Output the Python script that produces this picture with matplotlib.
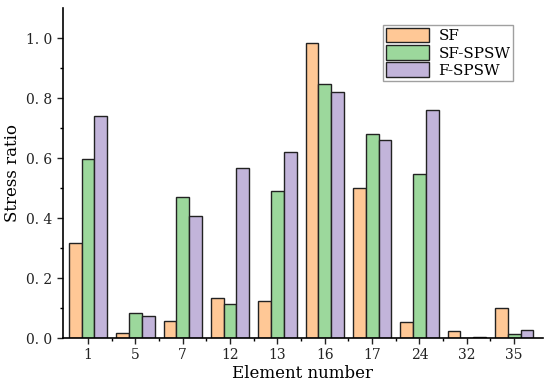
import matplotlib
matplotlib.use("Agg")
import matplotlib.pyplot as plt
import numpy as np

elements = ["1", "5", "7", "12", "13", "16", "17", "24", "32", "35"]
sf = [0.317, 0.018, 0.057, 0.132, 0.123, 0.983, 0.500, 0.054, 0.023, 0.100]
sf_spsw = [0.597, 0.084, 0.469, 0.113, 0.491, 0.848, 0.680, 0.547, 0.0, 0.015]
f_spsw = [0.740, 0.073, 0.408, 0.566, 0.621, 0.822, 0.660, 0.762, 0.003, 0.027]
series = ["SF", "SF-SPSW", "F-SPSW"]
colors = ["#FFC896", "#9CD89C", "#C2B4DA"]

plt.rcParams["font.family"] = ["DejaVu Serif"]

fig = plt.figure(figsize=(5.5, 3.89), dpi=100)
ax = fig.add_axes([0.1145, 0.131, 0.872, 0.848])

x = np.arange(len(elements))
w = 0.27
for i, (vals, name, c) in enumerate(zip([sf, sf_spsw, f_spsw], series, colors)):
    ax.bar(x + (i - 1) * w, vals, width=w, color=c, edgecolor="#222222",
           linewidth=1.0, label=name)

ax.set_xlim(-0.53, len(elements) - 0.4)
ax.set_ylim(0, 1.1)
ax.set_xticks(x)
ax.set_xticklabels(elements)
ax.set_xticks(x[:-1] + 0.5, minor=True)
ax.set_yticks([0, 0.2, 0.4, 0.6, 0.8, 1.0])
ax.set_yticklabels(["0. 0", "0. 2", "0. 4", "0. 6", "0. 8", "1. 0"])
ax.set_yticks(np.arange(0.1, 1.1, 0.2), minor=True)
ax.tick_params(axis="both", which="major", length=4, width=1, labelsize=10, colors="#222222")
ax.tick_params(axis="both", which="minor", length=2, width=1)
ax.spines["top"].set_visible(False)
ax.spines["right"].set_visible(False)
ax.spines["left"].set_linewidth(1.2)
ax.spines["bottom"].set_linewidth(1.2)

ax.set_xlabel("Element number", fontsize=12, labelpad=2)
ax.set_ylabel("Stress ratio", fontsize=12, labelpad=4)

leg = ax.legend(loc="upper right", bbox_to_anchor=(0.955, 0.973), fontsize=11,
                frameon=True, fancybox=False, edgecolor="#888888",
                handlelength=2.8, handleheight=1.1, labelspacing=0.12,
                borderpad=0.2, handletextpad=0.6)
leg.get_frame().set_linewidth(1.0)

fig.savefig("out.png", dpi=100)
